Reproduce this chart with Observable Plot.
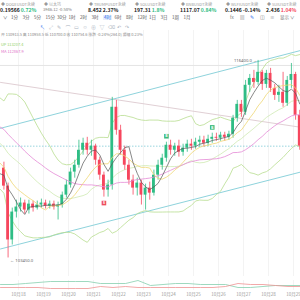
<!DOCTYPE html>
<html><head><meta charset="utf-8">
<script src="https://cdn.jsdelivr.net/npm/d3@7"></script>
<script src="https://cdn.jsdelivr.net/npm/@observablehq/plot@0.6"></script>
<style>
html,body{margin:0;padding:0;background:#fff;width:300px;height:300px;overflow:hidden;font-family:"Noto Sans CJK SC","Noto Sans",sans-serif;}
#wrap{position:relative;width:300px;height:300px;overflow:hidden;}
.a{position:absolute;white-space:nowrap;line-height:1;}
svg{display:block}
</style></head><body><div id="wrap"></div>
<script>
// ---------- data ----------
const tabNames  = ["DOGEUSDT永续","以太坊","TRUMPUSDT永续","SOLUSDT永续","BNBUSDT永续","WLFIUSDT永续","SUIUSDT永续"];
const tabPrices = ["0.19566","3946.12","8.452","197.31","1117.07","0.1446","2.436"];
const tabChanges= ["0.72%","-0.58%","2.37%","1.8%","0.84%","-0.14%","1.04%"];
const intervals = ["1分","3分","5分","15分","30分","1时","2时","3时","4时","6时","8时","12时","1日","3日","1周","1月"];
const activeInterval = "4时";

const dayTicks  = [24,48,72,96,120,144,168,192,216,240,264,288]; // hours since 10月17 00:00
const dayLabels = ["10月18","10月19","10月20","10月21","10月22","10月23","10月24","10月25","10月26","10月27","10月28","10月29"];

const candleStartHour = 8, candleHours = 4;
const prevCloses = [113400,114100,114800,115200,114700,115300,114600,113900,113200,112800,113300,112700,111900,111200,111900,112400,112900,112600,112100,111600,111100,110600,110900,110100,109300,108700,109000,108500,109100,109600];
const opens  = [109340,108160,104630,106460,106790,107050,106590,106980,106720,106920,107050,106850,106980,106790,106920,107570,108230,109080,109530,110510,110970,110510,110780,109860,108880,107900,108230,113330,111820,110510,109530,108550,108030,108360,107570,108030,107700,108880,109530,109990,110840,110510,110780,110380,110650,110910,110780,111040,111170,110970,111230,111360,111300,111500,111360,111560,112610,113520,113000,114770,115220,114960,115620,114830,115550,114570,114110,114310,113590,115090,115480,112800];
const highs  = [109730,108360,106720,107240,107380,107240,107240,107180,107180,107310,107240,107180,107180,107110,107770,108550,109340,109860,111170,111300,111360,111170,110910,110060,109080,108550,113980,113780,112150,110780,109860,108880,108680,108550,108290,108420,109210,109860,110250,111040,111170,110970,111170,110910,111170,111230,111300,111430,111430,111500,111630,111630,111690,111690,111760,112800,113780,113780,115090,115480,115750,116400,115750,115750,115880,114830,114770,115620,115350,116200,115620,113130];
const lows   = [107900,103450,104300,106070,106460,106330,106330,106460,106590,106720,106660,106660,106590,105940,106720,107380,108030,108680,109340,110190,110190,110120,109530,108550,107440,107440,107900,111500,110190,109210,108230,107570,107510,106920,106590,107240,107510,108550,109210,109730,110190,110120,110060,110120,110380,110510,110580,110710,110710,110780,110970,111100,111100,111100,111170,111300,112350,112670,112800,114310,114570,114770,114440,114570,114310,113780,113650,113330,113390,114570,112480,110510];
const closes = [108160,104630,106460,106790,107050,106590,106980,106720,106920,107050,106850,106980,106790,106920,107570,108230,109080,109530,110510,110970,110510,110780,109860,108880,107900,108230,113330,111820,110510,109530,108550,108030,108360,107570,108030,107700,108880,109530,109990,110840,110510,110780,110380,110650,110910,110780,111040,111170,110970,111230,111360,111300,111500,111360,111560,112610,113520,113000,114770,115220,114960,115620,114830,115550,114570,114110,114310,113590,115090,115480,112800,110780];

// drawn lines (price at the two ends of the view, hours 6.72 and 294.72)
const drawTimes    = [6.72, 294.72];
const channelUpper = [111950, 117050];
const channelLower = [104040, 109080];
const grayTrend    = [114960, 112020];
const levelLine    = [116070];

const signalIdx   = [39, 50, 24];
const signalType  = ["B","B","S"];
const signalPrice = [111430, 112010, 107050];

const dmiPlus  = [28,28,31,34,37,37,37,37,31,31,31,40,25,28,31,31,28,28,28,19,19,22,25,25,25];
const dmiMinus = [19,19,19,19,16,16,16,16,22,19,22,19,19,19,19,19,19,19,22,31,28,28,25,22,22];

const legendOHLC = "开 110913.5  高 110958.5  低 110700.0  收 110754.6  涨跌 -0.24%(264.0)  振幅 0.23%";
const legendBoll = "UP 113207.4";
const legendMA   = "MA 112867.9";

// ---------- build ----------
const GREEN = "#2ebd85", RED = "#f6465d";
const wrap = document.getElementById("wrap");
function addText(txt, x, y, size, color, weight) {
  const d = document.createElement("div");
  d.className = "a"; d.textContent = txt;
  d.style.left = x + "px"; d.style.top = y + "px";
  d.style.fontSize = size + "px"; d.style.color = color;
  if (weight) d.style.fontWeight = weight;
  d.style.zIndex = 5;
  wrap.appendChild(d);
  return d;
}

const candles = opens.map((o, i) => ({
  t: candleStartHour + candleHours * i + candleHours / 2,
  open: o, high: highs[i], low: lows[i], close: closes[i], up: closes[i] >= o
}));
const allCloses = prevCloses.concat(closes);
const allT = allCloses.map((_, k) => candleStartHour + candleHours * (k - prevCloses.length) + candleHours / 2);
function sma(n) {
  const out = [];
  for (let k = n - 1; k < allCloses.length; k++) out.push({t: allT[k], v: d3.mean(allCloses.slice(k - n + 1, k + 1))});
  return out;
}
function boll(n, m) {
  const out = [];
  for (let k = n - 1; k < allCloses.length; k++) {
    const w = allCloses.slice(k - n + 1, k + 1);
    const mu = d3.mean(w);
    const sd = Math.sqrt(d3.mean(w, v => (v - mu) ** 2));
    out.push({t: allT[k], mid: mu, up: mu + m * sd, lo: mu - m * sd});
  }
  return out;
}
const ma5 = sma(5), ma10 = sma(10), ma30 = sma(30), bb = boll(20, 2);
const seg = arr => drawTimes.map((t, i) => ({t, p: arr[i]}));
const signals = signalIdx.map((i, k) => ({t: candles[i].t, p: signalPrice[k], s: signalType[k]}));
const hi = candles.reduce((a, b) => b.high > a.high ? b : a);
const lo = candles.reduce((a, b) => b.low < a.low ? b : a);
const last = candles[candles.length - 1];
const bodyHalf = 1.35;

const xDomain = [6.72, 294.72];
const main = Plot.plot({
  width: 300, height: 246, margin: 0,
  x: {domain: xDomain, axis: null},
  y: {domain: [102236, 118362], axis: null},
  style: {fontFamily: "Noto Sans, sans-serif", background: "transparent"},
  marks: [
    Plot.ruleX(dayTicks, {stroke: "#f3f3f3", strokeWidth: 1}),
    Plot.ruleY(levelLine, {stroke: "#e4e4e4", strokeWidth: 1}),
    Plot.line(seg(grayTrend), {x: "t", y: "p", stroke: "#dcc9cf", strokeWidth: 0.9}),
    Plot.line(seg(channelUpper), {x: "t", y: "p", stroke: "#8ed3dc", strokeWidth: 1}),
    Plot.line(seg(channelLower), {x: "t", y: "p", stroke: "#8ed3dc", strokeWidth: 1}),
    Plot.ruleY([last.close], {stroke: "#7fcad6", strokeWidth: 0.8, strokeDasharray: "1.5,1.5"}),
    Plot.line(bb, {x: "t", y: "up", stroke: "#b7dd8f", strokeWidth: 0.8, clip: true}),
    Plot.line(bb, {x: "t", y: "lo", stroke: "#b7dd8f", strokeWidth: 0.8, clip: true}),
    Plot.line(bb, {x: "t", y: "mid", stroke: "#c9e6a8", strokeWidth: 0.7, clip: true}),
    Plot.ruleX(candles.filter(d => d.up), {x: "t", y1: "low", y2: "high", stroke: GREEN, strokeWidth: 0.8}),
    Plot.ruleX(candles.filter(d => !d.up), {x: "t", y1: "low", y2: "high", stroke: RED, strokeWidth: 0.8}),
    Plot.rect(candles.filter(d => d.up), {x1: d => d.t - bodyHalf, x2: d => d.t + bodyHalf, y1: "open", y2: "close", fill: GREEN}),
    Plot.rect(candles.filter(d => !d.up), {x1: d => d.t - bodyHalf, x2: d => d.t + bodyHalf, y1: "open", y2: "close", fill: RED}),
    Plot.line(ma30, {x: "t", y: "v", stroke: "#e58ad6", strokeWidth: 0.8, clip: true}),
    Plot.line(ma10, {x: "t", y: "v", stroke: "#efd774", strokeWidth: 0.8, clip: true}),
    Plot.line(ma5, {x: "t", y: "v", stroke: "#555555", strokeWidth: 0.7, clip: true}),
    Plot.dot(signals, {x: "t", y: "p", symbol: "square", r: 2.6, fill: d => d.s === "B" ? "#3dbb7e" : "#ee4f5f", stroke: "none"}),
    Plot.text(signals, {x: "t", y: "p", text: "s", fill: "white", fontSize: 3.6, fontWeight: "bold"}),
    Plot.text([hi], {x: "t", y: "high", text: d => d.high.toFixed(1) + " →", textAnchor: "end", dx: -1, fontSize: 4.2, fill: "#666"}),
    Plot.text([lo], {x: "t", y: "low", text: d => "← " + d.low.toFixed(1), textAnchor: "start", dx: 2, dy: 3, fontSize: 4.2, fill: "#666"})
  ]
});
const mainBox = document.createElement("div");
mainBox.style.position = "absolute"; mainBox.style.left = "0px"; mainBox.style.top = "30px";
mainBox.appendChild(main); wrap.appendChild(mainBox);

const dmiT = dmiPlus.map((_, k) => 6.72 + 12 * k);
const sub = Plot.plot({
  width: 300, height: 24, marginTop: 4, marginBottom: 10, marginLeft: 0, marginRight: 0,
  x: {domain: xDomain, ticks: dayTicks, tickFormat: d => dayLabels[dayTicks.indexOf(d)], tickSize: 0, tickPadding: 2, label: null, line: false},
  y: {domain: [10, 40], axis: null},
  style: {fontFamily: "Noto Sans CJK SC, sans-serif", fontSize: "4.5px", color: "#9a9a9a", background: "transparent"},
  marks: [
    Plot.ruleX(dayTicks, {stroke: "#f3f3f3"}),
    Plot.line(dmiPlus.map((v, k) => ({t: dmiT[k], v})), {x: "t", y: "v", stroke: "#86cfae", strokeWidth: 0.8}),
    Plot.line(dmiMinus.map((v, k) => ({t: dmiT[k], v})), {x: "t", y: "v", stroke: "#ef9393", strokeWidth: 0.8})
  ]
});
const subBox = document.createElement("div");
subBox.style.position = "absolute"; subBox.style.left = "0px"; subBox.style.top = "276px";
subBox.appendChild(sub); wrap.appendChild(subBox);

// ---------- header ----------
const tabX = [0, 43, 88, 134, 180, 225, 266];
tabNames.forEach((n, i) => {
  addText("◆ " + n, tabX[i] + 1, 1.5, 4, "#9a9a9a");
  const big = i !== 1;
  const p = addText(tabPrices[i] + " ", tabX[i], 7, big ? 5.1 : 4.1, big ? "#222" : "#777", big ? "600" : "400");
  const s = document.createElement("span");
  s.textContent = tabChanges[i];
  s.style.color = i === 6 ? RED : (i === 1 ? "#777" : (tabChanges[i].startsWith("-") ? "#222" : (i === 2 ? "#222" : GREEN)));
  p.appendChild(s);
});
addText("∨", 3, 15, 4.5, "#666");
intervals.forEach((t, i) => {
  const d = addText(t, 11 + i * 11.5, 15, 4.5, t === activeInterval ? "#2f6fed" : "#555");
  if (t === activeInterval) { d.style.background = "#e6eefc"; d.style.padding = "0 1px"; }
});
["fx", "▤", "✎", "◫", "≡", "显示 ∨"].forEach((t, i) => addText(t, 230 + i * 10, 15, 4.5, i === 2 ? "#2f6fed" : "#777"));
["↖", "⤢", "✎", "⌒", "▭", "☺", "⊕", "▽", "⌫", "↶", "↷"].forEach((t, i) => addText(t, 40 + i * 8.5, 24, 5, i === 0 ? "#2f6fed" : "#aab4c0"));
addText(legendOHLC, 1, 33, 3.9, "#8a8a8a");
addText(legendBoll, 1, 43, 3.9, "#8fcf5e");
addText(legendMA, 1, 49.5, 3.9, "#e070c8");
</script></body></html>
